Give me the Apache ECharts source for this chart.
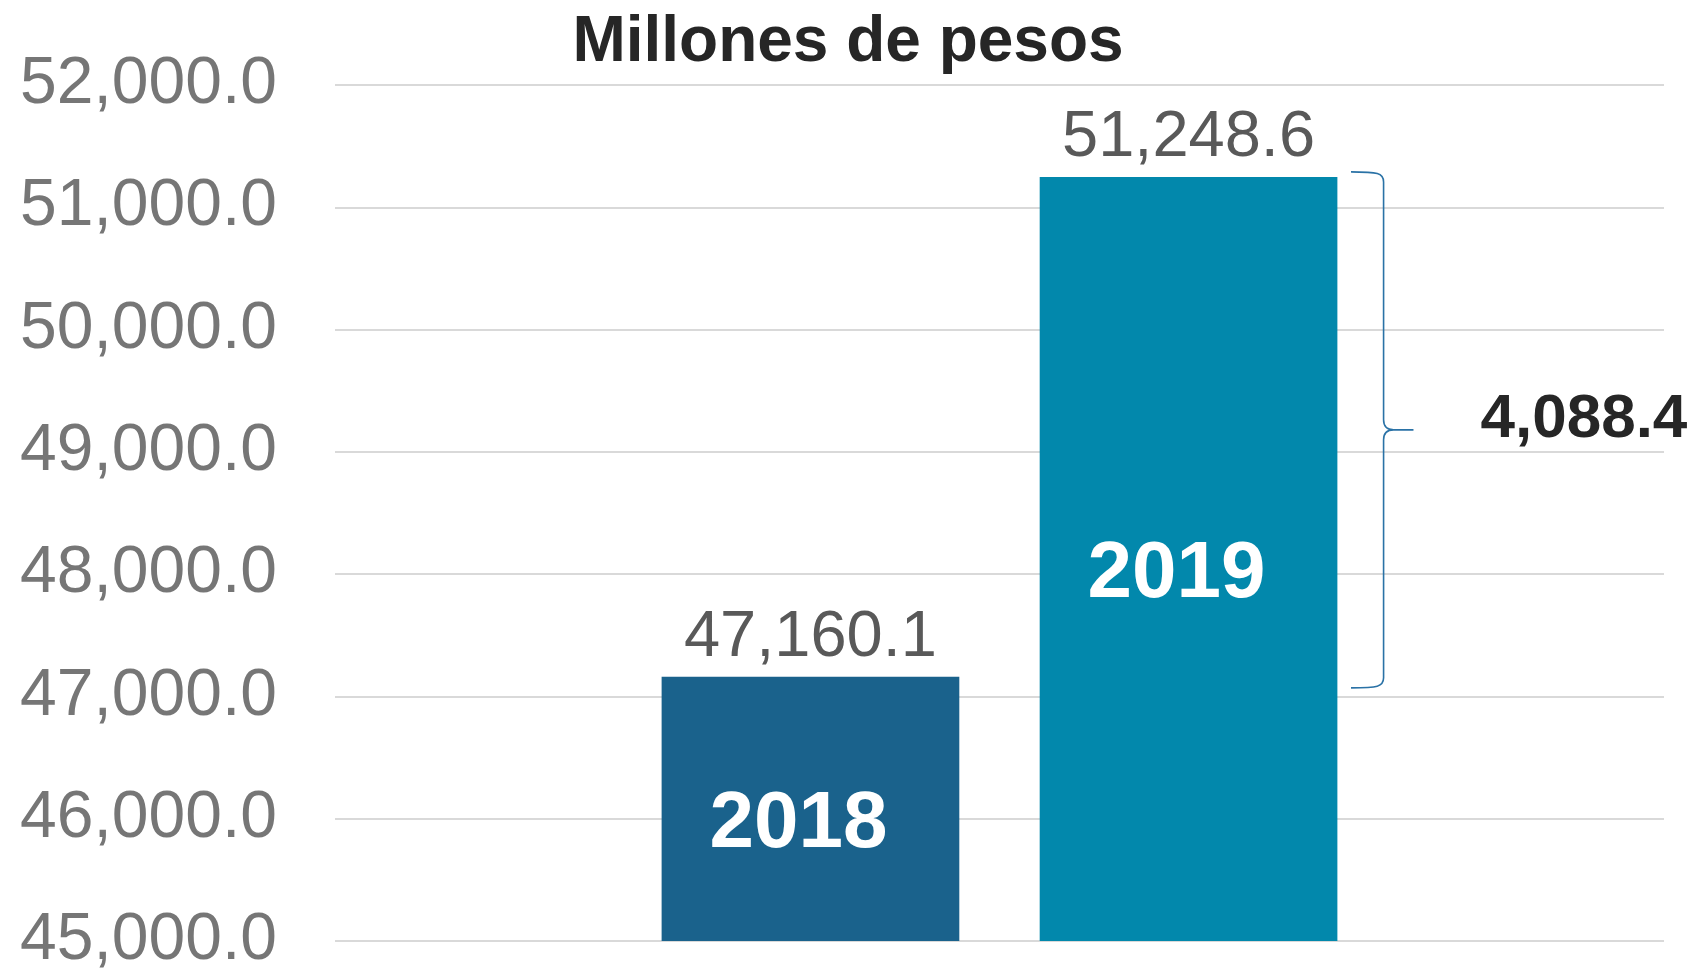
<!DOCTYPE html>
<html>
<head>
<meta charset="utf-8">
<script src="https://cdn.jsdelivr.net/npm/echarts@6/dist/echarts.min.js"></script>
<style>
html,body{margin:0;padding:0;background:#fff;}
#chart{width:1696px;height:974px;}
</style>
</head>
<body>
<div id="chart"></div>
<script>
const titleText = 'Millones de pesos';
const years = ['2018', '2019'];
const values = [47160.1, 51248.6];
const diffLabel = 4088.4;
const yMin = 45000, yMax = 52000, yStep = 1000;
const barColors = ['#1a628c', '#0288ac'];

const fmt1 = v => Number(v).toLocaleString('en-US', {minimumFractionDigits: 1, maximumFractionDigits: 1});
const FONT = '"Liberation Sans", Arial, sans-serif';

const barSeries = years.map((y, i) => ({
  name: y,
  type: 'bar',
  data: [values[i]],
  barWidth: '22.4%',
  barGap: '27%',
  itemStyle: {color: barColors[i]},
  label: {
    show: true, position: 'inside', formatter: y, offset: [-12, 16],
    color: '#ffffff', fontFamily: FONT, fontWeight: 'bold', fontSize: 80
  },
  markPoint: {
    symbol: 'rect', symbolSize: 1,
    itemStyle: {color: 'rgba(0,0,0,0)'},
    label: {
      show: true, position: 'top', distance: 6,
      formatter: p => fmt1(p.value),
      color: '#595959', fontFamily: FONT, fontSize: 65
    },
    data: [{type: 'max'}]
  },
  silent: true
}));

const braceSeries = {
  type: 'custom',
  silent: true,
  data: [[0, values[0], values[1], diffLabel]],
  renderItem: function (params, api) {
    const lo = api.coord([api.value(0), api.value(1)]);
    const hi = api.coord([api.value(0), api.value(2)]);
    const band = api.size([1, 0])[0];
    const cx = lo[0];
    const xL = cx + band * 0.2645;
    const xV = cx + band * 0.289;
    const xT = cx + band * 0.3115;
    const yTop = hi[1] - 5, yBot = lo[1] + 11;
    const yMid = (yTop + yBot) / 2;
    const path =
      'M' + xL + ' ' + yTop +
      ' C' + (xV - 6) + ' ' + yTop + ' ' + xV + ' ' + (yTop + 1) + ' ' + xV + ' ' + (yTop + 10) +
      ' L' + xV + ' ' + (yMid - 10) +
      ' Q' + xV + ' ' + yMid + ' ' + (xV + 10) + ' ' + yMid +
      ' L' + xT + ' ' + yMid +
      ' M' + (xV + 10) + ' ' + yMid +
      ' Q' + xV + ' ' + yMid + ' ' + xV + ' ' + (yMid + 10) +
      ' L' + xV + ' ' + (yBot - 10) +
      ' C' + xV + ' ' + (yBot - 1) + ' ' + (xV - 6) + ' ' + yBot + ' ' + xL + ' ' + yBot;
    return {
      type: 'group',
      children: [
        {
          type: 'path',
          shape: {pathData: path},
          style: {fill: null, stroke: '#2a72a6', lineWidth: 1.6}
        },
        {
          type: 'text',
          style: {
            x: xT + 67, y: yMid - 10,
            text: fmt1(api.value(3)),
            fill: '#262626',
            font: 'bold 62px ' + FONT,
            verticalAlign: 'middle', align: 'left'
          }
        }
      ]
    };
  }
};

const chart = echarts.init(document.getElementById('chart'), null, {renderer: 'canvas'});
chart.setOption({
  animation: false,
  backgroundColor: '#ffffff',
  title: {
    text: titleText, left: 'center', top: 6,
    textStyle: {color: '#262626', fontFamily: FONT, fontWeight: 'bold', fontSize: 64}
  },
  grid: {left: 335, right: 32, top: 85, bottom: 26, containLabel: false},
  xAxis: {
    type: 'category', data: ['total'],
    show: false
  },
  yAxis: {
    type: 'value', min: yMin, max: yMax, interval: yStep,
    axisLine: {show: false}, axisTick: {show: false},
    axisLabel: {
      margin: 58, color: '#767676', fontFamily: FONT, fontSize: 66,
      formatter: v => fmt1(v)
    },
    splitLine: {show: true, lineStyle: {color: '#d9d9d9', width: 2}}
  },
  series: barSeries.concat([braceSeries])
});
</script>
</body>
</html>
